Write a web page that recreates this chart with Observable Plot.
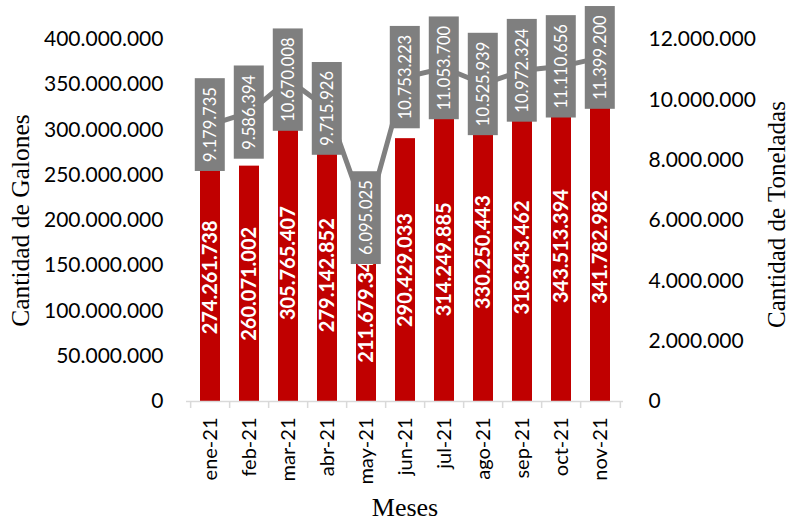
<!DOCTYPE html>
<html>
<head>
<meta charset="utf-8">
<script src="https://cdn.jsdelivr.net/npm/d3@7"></script>
<script src="https://cdn.jsdelivr.net/npm/@observablehq/plot@0.6"></script>
<style>
  html, body { margin: 0; padding: 0; background: #fff; }
</style>
</head>
<body>
<div id="chart"></div>
<script>
const months = ["ene-21","feb-21","mar-21","abr-21","may-21","jun-21","jul-21","ago-21","sep-21","oct-21","nov-21"];
const galones = [274261738, 260071002, 305765407, 279142852, 211679340, 290429033, 314249885, 330250443, 318343462, 343513394, 341782982];
const toneladas = [9179735, 9586394, 10670008, 9715926, 6095025, 10753223, 11053700, 10525939, 10972324, 11110656, 11399200];
const leftTicks = [0, 50000000, 100000000, 150000000, 200000000, 250000000, 300000000, 350000000, 400000000];
const rightTicks = [0, 2000000, 4000000, 6000000, 8000000, 10000000, 12000000];
const leftTitle = "Cantidad de Galones";
const rightTitle = "Cantidad de Toneladas";
const xTitle = "Meses";

const leftMax = 400000000, rightMax = 12000000;
const ratio = leftMax / rightMax;

const locale = d3.formatLocale({decimal: ",", thousands: ".", grouping: [3], currency: ["", ""]});
const fmt = locale.format(",d");

const rows = months.map((m, i) => ({month: m, gal: galones[i], ton: toneladas[i]}));

const W = 791, H = 525, mL = 186, mR = 168, mT = 39, mB = 124;
const step = (W - mL - mR) / months.length;

const sans = "Lato, 'Open Sans', sans-serif";
const serif = "'Liberation Serif', 'DejaVu Serif', serif";

const chart = Plot.plot({
  width: W, height: H,
  marginLeft: mL, marginRight: mR, marginTop: mT, marginBottom: mB,
  style: {fontFamily: sans, color: "#000", background: "#fff"},
  x: {domain: months, paddingInner: 0.5, paddingOuter: 0.25, axis: null},
  y: {domain: [0, leftMax], axis: null},
  marks: [
    Plot.barY(rows, {x: "month", y: "gal", fill: "#C00000"}),
    Plot.text(rows, {x: "month", y: d => d.gal / 2, text: d => fmt(d.gal), rotate: -90,
      fill: "#fff", fontSize: 20, fontWeight: "bold"}),
    Plot.ruleY([0], {stroke: "#d9d9d9", strokeWidth: 1.5}),
    Plot.ruleX(months, {x: d => d, y1: 0, y2: 0, insetBottom: -7, dx: -step / 2, stroke: "#d9d9d9", strokeWidth: 1.5}),
    Plot.ruleX(months.slice(-1), {x: d => d, y1: 0, y2: 0, insetBottom: -7, dx: step / 2, stroke: "#d9d9d9", strokeWidth: 1.5}),
    Plot.axisX({tickRotate: -90, tickSize: 0, tickPadding: 16, fontSize: 20, fontFamily: sans, label: null}),
    Plot.axisY(leftTicks, {anchor: "left", tickSize: 0, tickPadding: 23, tickFormat: fmt, fontSize: 21, label: null}),
    Plot.axisY(rightTicks.map(v => v * ratio), {anchor: "right", tickSize: 0, tickPadding: 25,
      tickFormat: d => fmt(Math.round(d / ratio)), fontSize: 21, label: null}),
    Plot.line(rows, {x: "month", y: d => d.ton * ratio, stroke: "#808080", strokeWidth: 5}),
    Plot.text(rows, {x: "month", y: d => d.ton * ratio, text: d => fmt(d.ton), rotate: -90,
      fill: "#fff", fontSize: 16.5, ariaLabel: d => "tonlabel"}),
    Plot.text([leftTitle], {text: d => d, frameAnchor: "left", dx: -166, rotate: -90, textAnchor: "middle",
      fontFamily: serif, fontSize: 25.5, fill: "#000"}),
    Plot.text([rightTitle], {text: d => d, frameAnchor: "right", dx: 153, dy: -6, rotate: -90, textAnchor: "middle",
      fontFamily: serif, fontSize: 25, fill: "#000"}),
    Plot.text([xTitle], {text: d => d, frameAnchor: "bottom", dy: 114,
      fontFamily: serif, fontSize: 26, fill: "#000"})
  ]
});

document.getElementById("chart").appendChild(chart);

// gray boxes behind the tonnage labels
chart.querySelectorAll('text[aria-label="tonlabel"]').forEach(t => {
  const b = t.getBBox();
  const padL = 9, padH = 5;
  const r = document.createElementNS("http://www.w3.org/2000/svg", "rect");
  r.setAttribute("x", b.x - padL);
  r.setAttribute("y", b.y - padH);
  r.setAttribute("width", b.width + 2 * padL);
  r.setAttribute("height", b.height + 2 * padH);
  r.setAttribute("fill", "#7f7f7f");
  const tr = t.getAttribute("transform");
  if (tr) r.setAttribute("transform", tr);
  t.parentNode.insertBefore(r, t);
});
</script>
</body>
</html>
